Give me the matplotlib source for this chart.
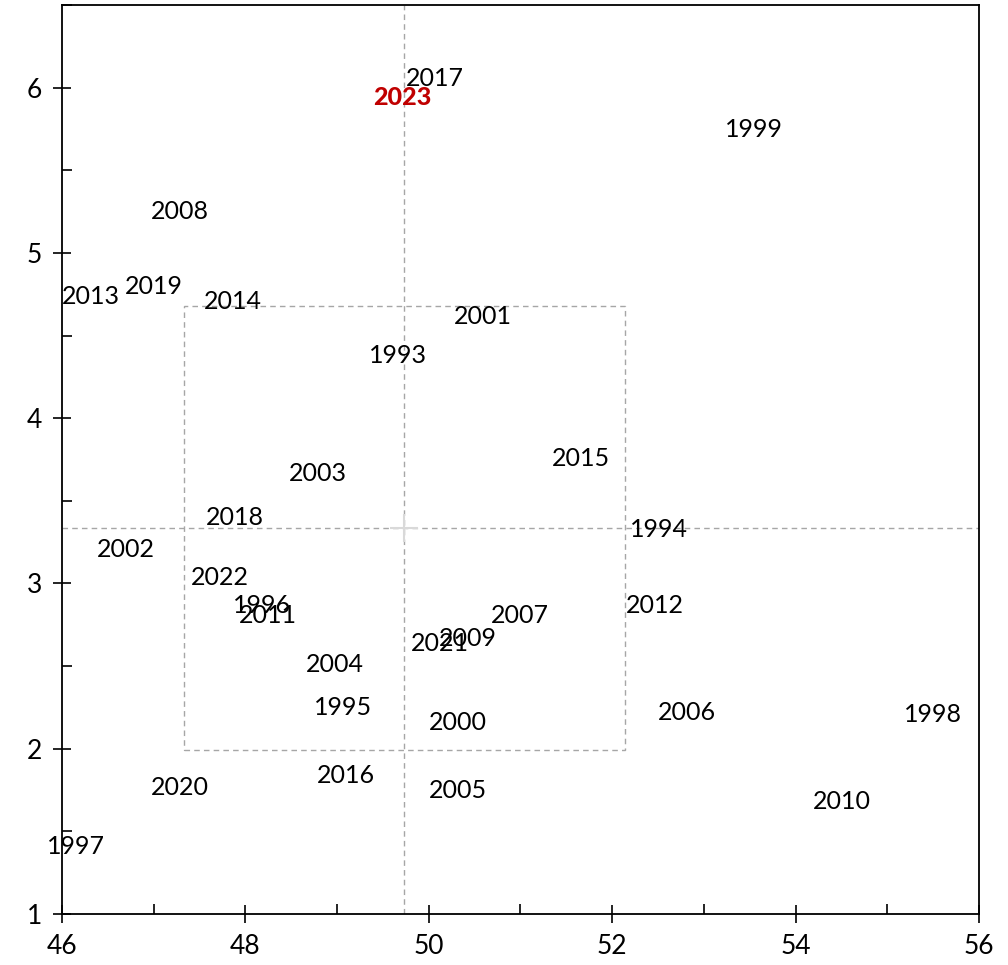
import numpy as np
import matplotlib.pyplot as plt
from matplotlib.patches import Rectangle
from matplotlib.ticker import MultipleLocator

# --------------------
# Data
# --------------------
years = [2017, 2023, 1999, 2008, 2019, 2013, 2014, 2001, 1993, 2015,
         2003, 2018, 1994, 2002, 2022, 1996, 2011, 2012, 2007, 2009,
         2021, 2004, 1995, 2006, 1998, 2000, 2016, 2020, 2005, 2010, 1997]
x_vals = [50.07, 49.71, 53.55, 47.29, 47.00, 46.31, 47.86, 50.59, 49.66, 51.66,
          48.79, 47.89, 52.51, 46.70, 47.72, 48.18, 48.25, 52.46, 50.99, 50.43,
          50.12, 48.98, 49.06, 52.82, 55.50, 50.32, 49.10, 47.29, 50.32, 54.50, 46.15]
y_vals = [6.07, 5.95, 5.76, 5.26, 4.81, 4.75, 4.72, 4.63, 4.39, 3.77,
          3.68, 3.41, 3.34, 3.22, 3.05, 2.88, 2.82, 2.88, 2.82, 2.68,
          2.65, 2.52, 2.26, 2.23, 2.22, 2.17, 1.85, 1.78, 1.76, 1.69, 1.42]
highlight = 2023

plt.rcParams['font.family'] = ['Lato', 'DejaVu Sans']

fig = plt.figure(figsize=(10.08, 9.65), dpi=100)
ax = fig.add_axes([62 / 1008, 1 - 914 / 965, (979 - 62) / 1008, (914 - 5) / 965])

x = np.array(x_vals)
y = np.array(y_vals)
mx, my = x.mean(), y.mean()
sx, sy = x.std(ddof=1), y.std(ddof=1)

# mean lines and +/- 1 std box
grey = "#a6a6a6"
ax.axvline(mx, color=grey, lw=1, ls=(0, (4, 3)), zorder=1)
ax.axhline(my, color=grey, lw=1, ls=(0, (4, 3)), zorder=1)
ax.add_patch(Rectangle((mx - sx, my - sy), 2 * sx, 2 * sy, fill=False,
                       ec=grey, lw=1, ls=(0, (4, 3)), zorder=1))
ax.plot([mx], [my], marker="+", ms=20, mew=1.5, color="#d9d9d9", zorder=1)

# year labels
for yr, xv, yv in zip(years, x_vals, y_vals):
    style = dict(ha="center", va="center", fontsize=18, zorder=3,
                 xytext=(0, -2), textcoords="offset pixels")
    if yr == highlight:
        ax.annotate(str(yr), (xv, yv), color="#c00000", fontweight="black", **style)
    else:
        ax.annotate(str(yr), (xv, yv), color="black", **style)

ax.set_xlim(46, 56)
ax.set_ylim(1, 6.5)
ax.xaxis.set_major_locator(MultipleLocator(2))
ax.xaxis.set_minor_locator(MultipleLocator(1))
ax.yaxis.set_major_locator(MultipleLocator(1))
ax.yaxis.set_minor_locator(MultipleLocator(0.5))
ax.tick_params(which="major", direction="inout", length=13, width=1.2,
               labelsize=19, pad=8)
ax.tick_params(which="minor", direction="in", length=7, width=1.2)
for s in ax.spines.values():
    s.set_linewidth(1.3)

plt.savefig("out.png", dpi=100)
plt.close()
